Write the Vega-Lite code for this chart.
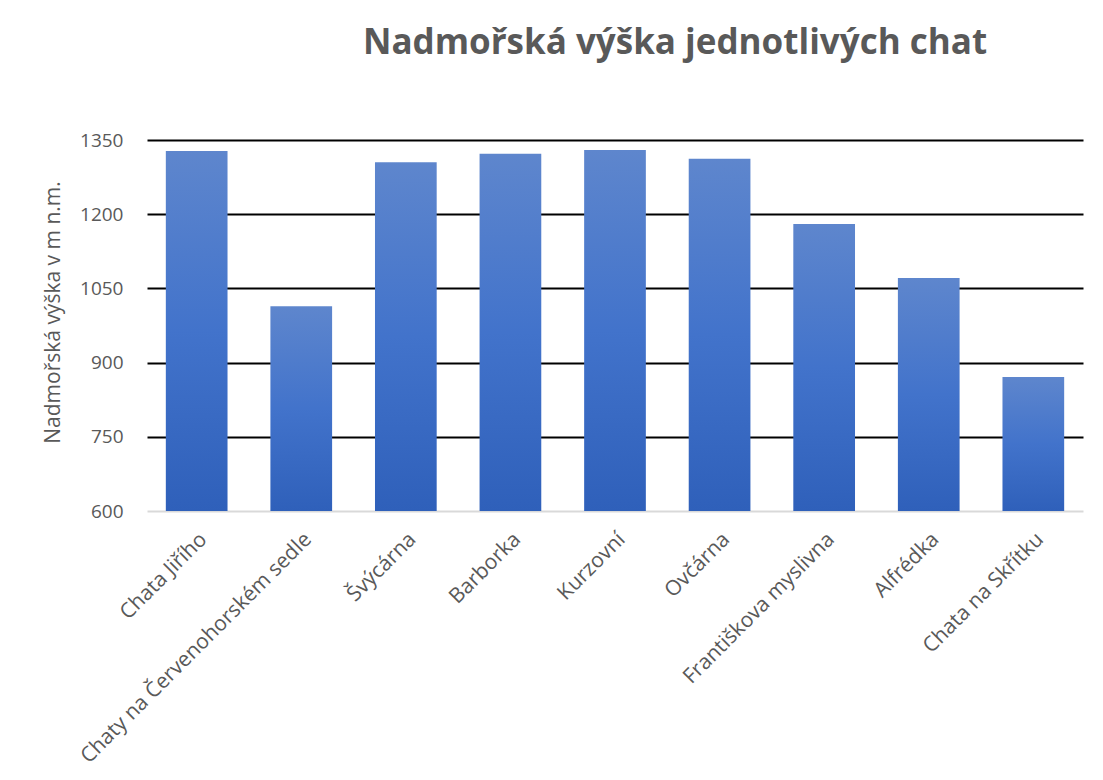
{
  "$schema": "https://vega.github.io/schema/vega-lite/v6.json",
  "width": 936,
  "height": 371,
  "autosize": "none",
  "padding": {"left": 147, "top": 140, "right": 20, "bottom": 269},
  "background": "white",
  "title": {
    "text": "Nadmořská výška jednotlivých chat",
    "font": "Open Sans",
    "fontSize": 35,
    "fontWeight": "bold",
    "color": "#595959",
    "anchor": "middle",
    "dx": 60,
    "offset": 70
  },
  "data": {
    "values": [
      {"chata": "Chata Jiřího", "vyska": 1328},
      {"chata": "Chaty na Červenohorském sedle", "vyska": 1014},
      {"chata": "Švýcárna", "vyska": 1305},
      {"chata": "Barborka", "vyska": 1322},
      {"chata": "Kurzovní", "vyska": 1330},
      {"chata": "Ovčárna", "vyska": 1312},
      {"chata": "Františkova myslivna", "vyska": 1180},
      {"chata": "Alfrédka", "vyska": 1071},
      {"chata": "Chata na Skřítku", "vyska": 871}
    ]
  },
  "mark": {
    "type": "bar",
    "color": {
      "gradient": "linear",
      "x1": 0, "y1": 0, "x2": 0, "y2": 1,
      "stops": [
        {"offset": 0, "color": "#5E86CD"},
        {"offset": 0.5, "color": "#4273CB"},
        {"offset": 1, "color": "#2F60BA"}
      ]
    }
  },
  "encoding": {
    "x": {
      "field": "chata",
      "type": "nominal",
      "sort": null,
      "scale": {"paddingInner": 0.41, "paddingOuter": 0.18},
      "axis": {
        "title": null,
        "labelAngle": -45,
        "labelAlign": "right",
        "labelBaseline": "middle",
        "labelFont": "Open Sans",
        "labelFontSize": 21,
        "labelColor": "#595959",
        "labelPadding": 25,
        "labelOffset": 7,
        "ticks": false,
        "domain": false,
        "labelLimit": 400
      }
    },
    "y": {
      "field": "vyska",
      "type": "quantitative",
      "scale": {"domain": [600, 1350], "nice": false, "zero": false},
      "axis": {
        "title": "Nadmořská výška v m n.m.",
        "titleFont": "Open Sans",
        "titleFontSize": 21,
        "titleFontWeight": "normal",
        "titleColor": "#595959",
        "titlePadding": 16,
        "titleY": 172,
        "values": [600, 750, 900, 1050, 1200, 1350],
        "format": "d",
        "labelFont": "Open Sans",
        "labelFontSize": 19,
        "labelColor": "#595959",
        "labelPadding": 24,
        "ticks": false,
        "domain": false,
        "grid": true,
        "gridColor": {"condition": {"test": "datum.value == 600", "value": "#D9D9D9"}, "value": "#000000"},
        "gridWidth": 2,
        "gridOpacity": 1
      }
    },
    "y2": {"datum": 600}
  },
  "config": {
    "view": {"stroke": null},
    "axis": {"gridCap": "butt"}
  }
}
